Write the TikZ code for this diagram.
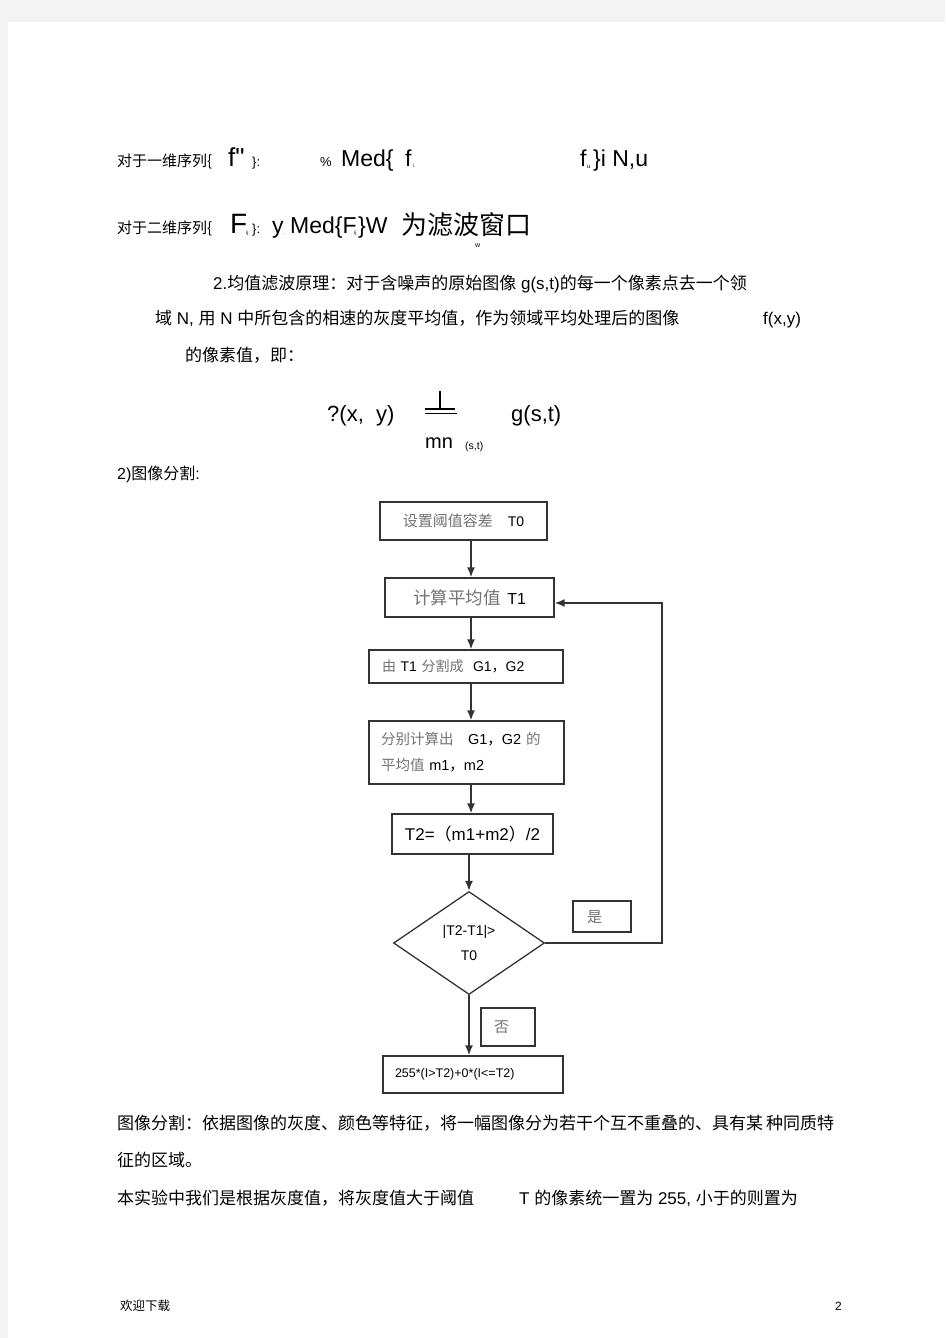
\documentclass[tikz,border=0pt]{standalone}
\usepackage{fontspec}
\setmainfont{Noto Sans CJK SC}
\newfontfamily\lat{Liberation Sans}
\usetikzlibrary{shapes.geometric,arrows.meta}
\definecolor{pagegray}{HTML}{F3F3F3}
\definecolor{linegray}{HTML}{333333}
\definecolor{cjkgray}{gray}{0.45}
\newcommand{\cjkgrey}[1]{\textcolor{cjkgray}{#1}}
\newcommand{\sz}[1]{\fontsize{#1}{#1}\selectfont}

\begin{document}
\begin{tikzpicture}[x=1pt,y=-1pt,
  body/.style={anchor=base west,inner sep=0pt,font=\sz{17}},
  flowbox/.style={draw=linegray,line width=1.3pt,inner sep=0pt,font=\sz{15}},
  leftbox/.style={flowbox,align=left,inner xsep=13pt},
  arr/.style={draw=linegray,line width=1.6pt,-{Latex[length=10pt,width=8pt]}}]
\useasboundingbox (0,0) rectangle (945,1338);
\fill[pagegray] (0,0) rectangle (945,1338);
\fill[white] (8,22) rectangle (945,1338);

% median filter lines
\node[body,font=\sz{15}] (seqA) at (117,166) {对于一维序列\{};
\node[body,font=\lat\sz{26}] (fA) at (228,166) {f"};
\node[body,font=\lat\sz{13}] (closeA) at (252,166) {\}:};
\node[body,font=\lat\sz{13}] (pct) at (320,166) {\%};
\node[body,font=\lat\sz{23}] (medA) at (341,166) {Med\{};
\node[body,font=\lat\sz{23}] (fi) at (405,166) {f};
\node[body,font=\lat\sz{5}] (subi) at (413,167) {i};
\node[body,font=\lat\sz{23}] (fu) at (580,166) {f};
\node[body,font=\lat\sz{6}] (subu) at (587,168) {u};
\node[body,font=\lat\sz{23}] (restA) at (593,166) {\}i N,u};

\node[body,font=\sz{15}] (seqB) at (117,233) {对于二维序列\{};
\node[body,font=\lat\sz{28}] (bigF) at (230,233) {F};
\node[body,font=\lat\sz{5}] (subij) at (246,234) {ij};
\node[body,font=\lat\sz{13}] (closeB) at (252,233) {\}:};
\node[body,font=\lat\sz{23}] (yB) at (272,233) {y};
\node[body,font=\lat\sz{6}] (dotB) at (284,234) {.};
\node[body,font=\lat\sz{23}] (medB) at (290,233) {Med\{F};
\node[body,font=\lat\sz{5}] (subijB) at (354,234) {ij};
\node[body,font=\lat\sz{23}] (closeW) at (358,233) {\}W};
\node[body,font=\sz{26}] (window) at (401,234) {为滤波窗口};
\node[body,font=\lat\sz{7}] (subw) at (475,247) {w};

% mean filter text
\node[body] (meanA) at (213,289.5) {{\lat 2.}均值滤波原理：对于含噪声的原始图像{\lat\ g(s,t)}的每一个像素点去一个领};
\node[body] (meanB) at (155,324.5) {域{\lat\ N,\ }用{\lat\ N\ }中所包含的相速的灰度平均值，作为领域平均处理后的图像};
\node[body,font=\lat\sz{17}] (fxy) at (763,324.5) {f(x,y)};
\node[body] (meanC) at (185,361.5) {的像素值，即：};

% formula
\node[body,font=\lat\sz{22}] (lhs) at (327,421) {?(x,\ \ y)};
\draw[line width=2pt] (440,391) -- (440,409);
\draw[line width=2pt] (425,409) -- (455,409);
\draw[line width=1.6pt] (425,413.5) -- (457,413.5);
\node[body,font=\lat\sz{20}] (mn) at (425,448) {mn};
\node[body,font=\lat\sz{10.5}] (st) at (465,449) {(s,t)};
\node[body,font=\lat\sz{22}] (gst) at (511,421) {g(s,t)};

\node[body,font=\sz{16}] (segtitle) at (117,479) {{\lat 2)}图像分割{\lat :}};

% flowchart
\node[flowbox,minimum width=167pt,minimum height=38pt] (setT0) at (463.5,521)
  {\cjkgrey{设置阈值容差}\quad{\lat\sz{14}T0}};
\node[flowbox,minimum width=169pt,minimum height=39pt] (calcT1) at (469.5,597.5)
  {\cjkgrey{\sz{17.5}计算平均值}\ \ {\lat\sz{16}T1}};
\node[leftbox,text width=168pt,minimum height=33pt,font=\sz{14}] (split) at (466,666.5)
  {\cjkgrey{由}\ {\lat T1}\ \cjkgrey{分割成}\ \ {\lat G1}，{\lat G2}};
\node[leftbox,inner xsep=12pt,text width=171pt,minimum height=63pt,font=\fontsize{14.5}{26}\selectfont] (means) at (466.5,752.5)
  {\cjkgrey{分别计算出}\quad{\lat G1}，{\lat G2}\ \cjkgrey{的}\\\cjkgrey{平均值}\ {\lat m1}，{\lat m2}};
\node[flowbox,minimum width=161pt,minimum height=40pt,font=\sz{17}] (newT) at (472.5,834)
  {{\lat T2=}（{\lat m1+m2}）{\lat /2}};
\node[diamond,draw=linegray,line width=1.3pt,inner sep=0pt,minimum width=151pt,minimum height=103pt,
  align=center,font=\lat\fontsize{14}{25}\selectfont] (test) at (469,943) {|T2-T1|>\\T0};
\node[leftbox,inner xsep=14pt,text width=30pt,minimum height=31pt,text depth=-3pt] (yes) at (602,916.5) {\cjkgrey{是}};
\node[leftbox,text width=28pt,minimum height=38pt] (no) at (508,1027) {\cjkgrey{否}};
\node[leftbox,inner xsep=12pt,text width=156pt,minimum height=37pt,font=\lat\sz{12.5}] (result) at (473,1074.5)
  {255*(I>T2)+0*(I<=T2)};

\coordinate (spine) at (471,0);
\coordinate (loop) at (662,0);
\draw[arr] (setT0.south -| spine) -- (calcT1.north -| spine);
\draw[arr] (calcT1.south -| spine) -- (split.north -| spine);
\draw[arr] (split.south -| spine) -- (means.north -| spine);
\draw[arr] (means.south -| spine) -- (newT.north -| spine);
\draw[arr] (newT.south -| test) -- (test.north);
\draw[arr] (test.south) -- (result.north -| test);
\draw[arr] (test.east) -- (test.east -| loop) |- ([yshift=-5.5pt]calcT1.east);

% text below
\node[body] (defA) at (117,1129.5) {图像分割：依据图像的灰度、颜色等特征，将一幅图像分为若干个互不重叠的、具有某\,种同质特};
\node[body] (defB) at (117,1166.5) {征的区域。};
\node[body] (expA) at (117,1204.5) {本实验中我们是根据灰度值，将灰度值大于阈值};
\node[body] (expB) at (519,1204.5) {{\lat T\ }的像素统一置为{\lat\ 255,\ }小于的则置为};

% footer
\node[body,font=\sz{12.5}] (foot) at (120,1310) {欢迎下载};
\node[body,font=\lat\sz{12}] (page) at (835,1310) {2};
\end{tikzpicture}
\end{document}
